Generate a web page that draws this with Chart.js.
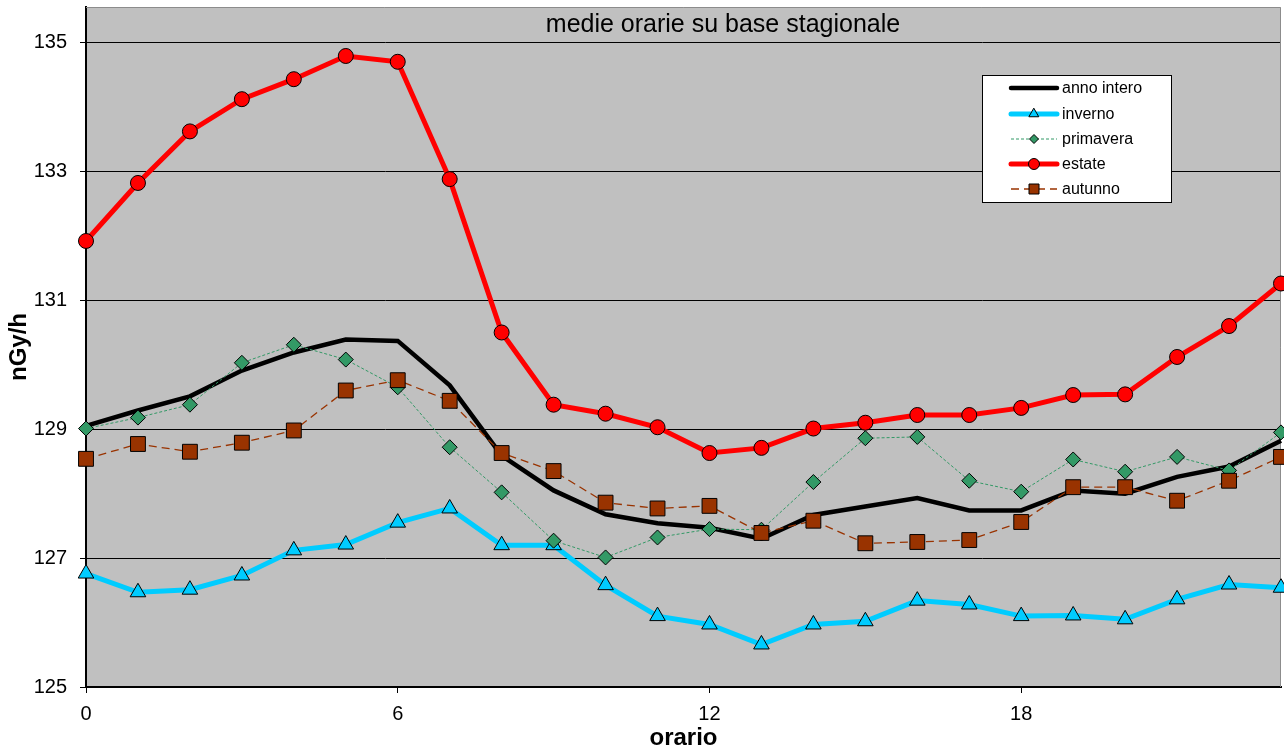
<!DOCTYPE html>
<html>
<head>
<meta charset="utf-8">
<script src="https://cdn.jsdelivr.net/npm/chart.js@4.4.1/dist/chart.umd.min.js"></script>
<style>
html, body { margin: 0; padding: 0; background: #fff; }
#wrap { width: 1284px; height: 753px; }
</style>
</head>
<body>
<div id="wrap"><canvas id="grafico" width="1284" height="753"></canvas></div>
<script>
// ore del giorno
var ore = [0,1,2,3,4,5,6,7,8,9,10,11,12,13,14,15,16,17,18,19,20,21,22,23];

// medie orarie (nGy/h)
var annoIntero = [129.05,129.29,129.51,129.91,130.19,130.39,130.37,129.68,128.59,128.05,127.68,127.54,127.47,127.30,127.67,127.80,127.93,127.74,127.74,128.05,128.00,128.26,128.42,128.82];
var inverno    = [126.76,126.47,126.51,126.73,127.12,127.21,127.55,127.77,127.20,127.20,126.58,126.10,125.97,125.66,125.97,126.02,126.34,126.28,126.10,126.11,126.05,126.36,126.59,126.54];
var primavera  = [129.01,129.18,129.38,130.03,130.31,130.08,129.65,128.72,128.02,127.27,127.01,127.32,127.45,127.44,128.18,128.86,128.88,128.20,128.03,128.53,128.34,128.57,128.36,128.95];
var estate     = [131.92,132.82,133.62,134.12,134.43,134.79,134.70,132.88,130.50,129.38,129.24,129.03,128.63,128.71,129.01,129.10,129.22,129.22,129.33,129.53,129.54,130.12,130.60,131.26];
var autunno    = [128.54,128.77,128.65,128.79,128.98,129.60,129.76,129.44,128.63,128.35,127.86,127.77,127.81,127.39,127.58,127.23,127.25,127.28,127.56,128.10,128.10,127.89,128.20,128.57];

var etichette = ['anno intero','inverno','primavera','estate','autunno'];
var tickX = [0,6,12,18];
var tickY = [125,127,129,131,133,135];

var titolo = 'medie orarie su base stagionale';
var FONT = 'Arial, "Liberation Sans", sans-serif';

function punti(valori){
	var out = [];
	for (var i = 0; i < ore.length; i++) {
		out.push({x: ore[i], y: valori[i]});
	}
	return out;
}

function disegnaMarker(ctx, tipo, x, y, r, colore){
	ctx.beginPath();
	if (tipo == 'circle') {
		ctx.arc(x, y, r, 0, Math.PI*2);
	} else if (tipo == 'triangle') {
		ctx.moveTo(x, y - r);
		ctx.lineTo(x + r*0.866, y + r*0.5);
		ctx.lineTo(x - r*0.866, y + r*0.5);
	} else if (tipo == 'rectRot') {
		ctx.moveTo(x, y - r);
		ctx.lineTo(x + r, y);
		ctx.lineTo(x, y + r);
		ctx.lineTo(x - r, y);
	} else if (tipo == 'rect') {
		ctx.rect(x - r, y - r, 2*r, 2*r);
	}
	ctx.closePath();
	ctx.fillStyle = colore;
	ctx.fill();
	ctx.setLineDash([]);
	ctx.lineWidth = 1;
	ctx.strokeStyle = '#000';
	ctx.stroke();
}

// sfondo grigio dell'area del grafico + bordo e titolo
var sfondo = {
	id: 'sfondo',
	beforeDraw: function(chart){
		var ctx = chart.ctx, a = chart.chartArea;
		ctx.save();
		ctx.fillStyle = '#ffffff';
		ctx.fillRect(0, 0, chart.width, chart.height);
		ctx.fillStyle = '#c0c0c0';
		ctx.fillRect(a.left, a.top, a.right - a.left, a.bottom - a.top);
		ctx.restore();
	},
	beforeDatasetsDraw: function(chart){
		var ctx = chart.ctx, a = chart.chartArea;
		ctx.save();
		ctx.strokeStyle = '#8c8c8c';
		ctx.lineWidth = 1;
		ctx.beginPath();
		ctx.moveTo(a.left, a.top + 0.5);
		ctx.lineTo(a.right - 0.5, a.top + 0.5);
		ctx.lineTo(a.right - 0.5, a.bottom);
		ctx.stroke();
		ctx.fillStyle = '#000';
		ctx.font = '25px ' + FONT;
		ctx.textAlign = 'center';
		ctx.textBaseline = 'middle';
		ctx.fillText(titolo, a.left + 637, a.top + 18);
		ctx.restore();
	}
};

// legenda dentro il grafico
var legenda = {
	id: 'legenda',
	afterDatasetsDraw: function(chart){
		var ctx = chart.ctx;
		var bx = 982, by = 75, bw = 189, bh = 127;
		var righe = [88, 114, 139, 164, 189];
		var rMarker = [0, 5.5, 4.5, 5.5, 5];
		ctx.save();
		ctx.fillStyle = '#fff';
		ctx.fillRect(bx, by, bw, bh);
		ctx.strokeStyle = '#000';
		ctx.lineWidth = 1;
		ctx.strokeRect(bx + 0.5, by + 0.5, bw, bh);
		chart.data.datasets.forEach(function(ds, i){
			var y = righe[i];
			ctx.beginPath();
			ctx.setLineDash(ds.borderDash || []);
			ctx.strokeStyle = ds.borderColor;
			ctx.lineWidth = ds.borderWidth;
			ctx.lineCap = ds.borderWidth > 3 ? 'round' : 'butt';
			ctx.moveTo(1011, y);
			ctx.lineTo(1057, y);
			ctx.stroke();
			if (ds.pointRadius > 0) {
				disegnaMarker(ctx, ds.pointStyle, 1034, y, rMarker[i], ds.pointBackgroundColor);
			}
			ctx.fillStyle = '#000';
			ctx.font = '16px ' + FONT;
			ctx.textAlign = 'left';
			ctx.textBaseline = 'middle';
			ctx.fillText(ds.label, 1062, y + 0.5);
		});
		ctx.restore();
	}
};

new Chart(document.getElementById('grafico'), {
	type: 'line',
	data: {
		datasets: [
			{
				label: etichette[0],
				data: punti(annoIntero),
				borderColor: '#000000',
				borderWidth: 4.5,
				pointRadius: 0,
				order: 5
			},
			{
				label: etichette[1],
				data: punti(inverno),
				borderColor: '#00ccff',
				borderWidth: 5,
				pointStyle: 'triangle',
				pointRadius: 9,
				pointBackgroundColor: '#00ccff',
				pointBorderColor: '#000',
				pointBorderWidth: 1,
				order: 4
			},
			{
				label: etichette[2],
				data: punti(primavera),
				borderColor: '#339966',
				borderWidth: 1,
				borderDash: [3, 2],
				pointStyle: 'rectRot',
				pointRadius: 7.5,
				pointBackgroundColor: '#339966',
				pointBorderColor: '#000',
				pointBorderWidth: 1,
				order: 3
			},
			{
				label: etichette[3],
				data: punti(estate),
				borderColor: '#ff0000',
				borderWidth: 5,
				pointStyle: 'circle',
				pointRadius: 7.5,
				pointBackgroundColor: '#ff0000',
				pointBorderColor: '#000',
				pointBorderWidth: 1,
				order: 2
			},
			{
				label: etichette[4],
				data: punti(autunno),
				borderColor: '#993300',
				borderWidth: 1.3,
				borderDash: [8, 5],
				pointStyle: 'rect',
				pointRadius: 10.5,
				pointBackgroundColor: '#993300',
				pointBorderColor: '#000',
				pointBorderWidth: 1,
				order: 1
			}
		]
	},
	options: {
		responsive: false,
		animation: false,
		events: [],
		clip: false,
		layout: { autoPadding: false, padding: { left: 0, top: 7, right: 3, bottom: 0 } },
		elements: { line: { tension: 0 } },
		plugins: {
			legend: { display: false },
			tooltip: { enabled: false },
			title: { display: false }
		},
		scales: {
			x: {
				type: 'linear',
				min: 0,
				max: 23,
				afterBuildTicks: function(scale){
					scale.ticks = tickX.map(function(v){ return {value: v}; });
				},
				afterFit: function(scale){
					scale.height = 66;
					scale.paddingLeft = 0;
					scale.paddingRight = 0;
				},
				grid: { drawOnChartArea: false, drawTicks: true, tickLength: 6, color: '#000', lineWidth: 1 },
				border: { display: true, color: '#000', width: 2 },
				ticks: { color: '#000', font: { family: FONT, size: 20 }, padding: 9, maxRotation: 0 },
				title: { display: true, text: 'orario', color: '#000', font: { family: FONT, size: 24, weight: 'bold', lineHeight: 1.2 }, padding: { top: 0, bottom: 0 } }
			},
			y: {
				min: 125,
				max: 135.55,
				afterBuildTicks: function(scale){
					scale.ticks = tickY.map(function(v){ return {value: v}; });
				},
				afterFit: function(scale){
					scale.width = 86;
					scale.paddingTop = 0;
					scale.paddingBottom = 0;
				},
				grid: { drawOnChartArea: true, drawTicks: true, tickLength: 6, color: '#000', lineWidth: 1 },
				border: { display: true, color: '#000', width: 2 },
				ticks: { color: '#000', font: { family: FONT, size: 20 }, padding: 13 },
				title: { display: true, text: 'nGy/h', color: '#000', font: { family: FONT, size: 24, weight: 'bold', lineHeight: 1.2 }, padding: { top: 5, bottom: 0 } }
			}
		}
	},
	plugins: [sfondo, legenda]
});
</script>
</body>
</html>
